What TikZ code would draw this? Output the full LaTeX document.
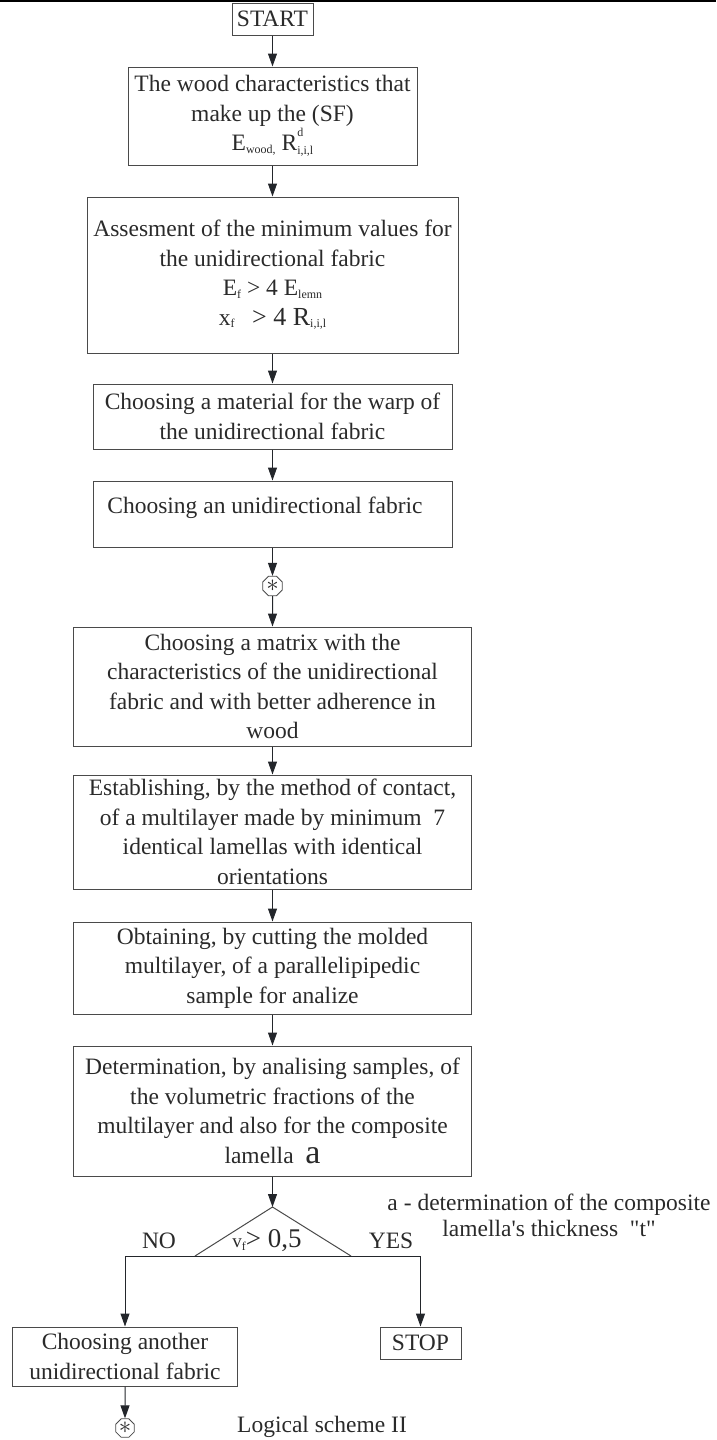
\documentclass[tikz,border=0pt]{standalone}
\usepackage{fontspec}
\setmainfont{Liberation Serif}[Ligatures=TeXOff]
\usetikzlibrary{arrows.meta,shapes.geometric}
\definecolor{ln}{HTML}{4A4A4A}
\definecolor{ar}{HTML}{23262B}
\definecolor{tx}{HTML}{2A2A2A}
\newcommand\lo[1]{\raisebox{-0.25ex}{\fontsize{12}{12}\selectfont #1}}
\newcommand\hi[1]{\raisebox{1.3ex}{\fontsize{12}{12}\selectfont #1}}
\begin{document}
\begin{tikzpicture}[x=1pt,y=-1pt,
  every node/.style={text=tx, font=\fontsize{23.5}{29.5}\selectfont},
  box/.style={draw=ln, line width=1pt, rectangle, inner sep=0pt, align=center},
  conn/.style={draw=ar, line width=1pt, -{Triangle[length=13pt,width=9pt]}},
  plain/.style={draw=ar, line width=1pt},
  joint/.style={draw=ln, line width=0.8pt, regular polygon, regular polygon sides=8, minimum size=21pt, inner sep=0pt},
  lbl/.style={inner sep=0pt, align=center}]
\useasboundingbox (0,0) rectangle (716,1440);
\fill[black] (0,0) rectangle (716,1.6);

\node[box, minimum width=81pt, minimum height=32pt] (start) at (272.5,19) {START};
\node[box, minimum width=289pt, minimum height=98pt] (b1) at (272.5,116)
  {The wood characteristics that\\ make up the (SF)\\ E\lo{wood,} R\rlap{\hi{d}}\raisebox{-0.35ex}{\fontsize{12}{12}\selectfont i,i,l}};
\node[box, minimum width=371pt, minimum height=156pt] (b2) at (272.5,275)
  {Assesment of the minimum values for\\ the unidirectional fabric\\ E\lo{f} > 4 E\lo{lemn}\\ x\lo{f} \ \ {\fontsize{26}{26}\selectfont > 4 R}\lo{i,i,l}};
\node[box, minimum width=359pt, minimum height=65pt] (b3) at (272.5,416.5)
  {Choosing a material for the warp of\\ the unidirectional fabric};
\node[box, minimum width=359pt, minimum height=66pt] (b4) at (272.5,514) {};
\node[lbl] (b4t) at (265,508) {Choosing an unidirectional fabric};
\node[joint] (c1) at (272.5,586) {$\ast$};
\node[box, minimum width=398pt, minimum height=119pt] (b5) at (272.5,686.5)
  {Choosing a matrix with the\\ characteristics of the unidirectional\\ fabric and with better adherence in\\ wood};
\node[box, minimum width=398pt, minimum height=114pt] (b6) at (272.5,832)
  {Establishing, by the method of contact,\\ of a multilayer made by minimum\ \ 7\\ identical lamellas with identical\\ orientations};
\node[box, minimum width=398pt, minimum height=92pt] (b7) at (272.5,968)
  {Obtaining, by cutting the molded\\ multilayer, of a parallelipipedic\\ sample for analize};
\node[box, minimum width=398pt, minimum height=130pt] (b8) at (272.5,1111)
  {Determination, by analising samples, of\\ the volumetric fractions of the\\ multilayer and also for the composite\\ lamella\ \ {\fontsize{34}{34}\selectfont a}};

\coordinate (dt) at (272.5,1207);
\coordinate (dl) at (195,1256);
\coordinate (dr) at (351,1256);
\coordinate (nl) at (125,1256);
\coordinate (yr) at (420.5,1256);
\node[lbl] (cond) at (267,1241) {{\fontsize{19}{19}\selectfont v}\lo{f}{\fontsize{27}{27}\selectfont > 0,5}};
\node[lbl] (no) at (159,1241) {NO};
\node[lbl] (yes) at (391,1241) {YES};
\node[lbl, font=\fontsize{23.5}{26}\selectfont] (note) at (549,1215)
  {a - determination of the composite\\ lamella's thickness\ \ "t"};

\node[box, minimum width=225pt, minimum height=59pt] (another) at (125,1356.5)
  {Choosing another\\ unidirectional fabric};
\node[box, minimum width=81pt, minimum height=32pt] (stop) at (420.5,1343) {STOP};
\node[joint, minimum size=20pt] (c2) at (125,1428) {$\ast$};
\node[lbl] (title) at (322,1427) {Logical scheme II};

\draw[conn] (start) -- (b1);
\draw[conn] (b1) -- (b2);
\draw[conn] (b2) -- (b3);
\draw[conn] (b3) -- (b4);
\draw[conn] (b4) -- (c1);
\draw[conn] (c1) -- (b5);
\draw[conn] (b5) -- (b6);
\draw[conn] (b6) -- (b7);
\draw[conn] (b7) -- (b8);
\draw[conn] (b8) -- (dt);
\draw[draw=ln, line width=1pt] (dl) -- (dt) -- (dr);
\draw[plain] (nl) -- (yr);
\draw[conn] (nl) -- (another);
\draw[conn] (yr) -- (stop);
\draw[conn] (another) -- (c2);
\end{tikzpicture}
\end{document}
